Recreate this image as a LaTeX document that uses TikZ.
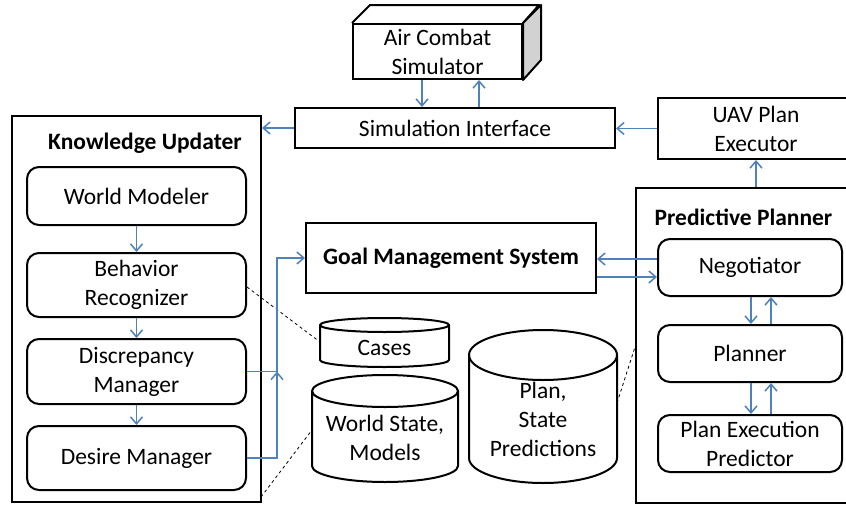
\documentclass[tikz,border=0pt]{standalone}
\usepackage{fontspec}
\setmainfont{Carlito}
\usetikzlibrary{arrows.meta}
\definecolor{flowblue}{RGB}{79,129,189}

\begin{document}
\begin{tikzpicture}[x=1pt,y=-1pt,>={Straight Barb[length=7pt,width=12pt]},
		txt/.style={inner sep=0pt, align=center, font=\fontsize{23.5}{29}\selectfont},
		box/.style={txt, draw, line width=2pt},
		module/.style={box, rounded corners=12pt},
		title/.style={txt, font=\fontsize{23.5}{29}\selectfont\bfseries},
		flow/.style={->, draw=flowblue, line width=1.5pt},
		link/.style={dash pattern=on 3pt off 3pt, line width=0.8pt},
		store/.style={draw, fill=white, line width=2pt}]
		\clip (0,0) rectangle (846,506);
		
		% simulator and interface
		\node[box, minimum width=169pt, minimum height=55pt] (sim) at (437.5,51.5) {Air Combat\\Simulator};
		\draw[line width=2pt, line join=round] (sim.north west) -- ++(18,-18) -- ++(169,0) -- (sim.north east);
		\filldraw[fill=gray!35, line width=2pt, line join=round] (sim.north east) -- ++(18,-18) -- ++(0,55) -- (sim.south east) -- cycle;
		\node[box, minimum width=320pt, minimum height=40pt] (simif) at (455,128) {Simulation Interface};
		\node[box, minimum width=196pt, minimum height=61pt] (uav) at (756,128.5) {UAV Plan\\Executor};
		
		% knowledge updater
		\node[box, minimum width=249pt, minimum height=386pt] (ku) at (136.5,309) {};
		\node[title] (kutitle) at (145,143) {Knowledge Updater};
		\node[module, minimum width=219pt, minimum height=58pt] (wm) at (136.5,196) {World Modeler};
		\node[module, minimum width=219pt, minimum height=64pt] (br) at (136.5,285) {Behavior\\Recognizer};
		\node[module, minimum width=219pt, minimum height=65pt] (dm) at (136.5,371.5) {Discrepancy\\Manager};
		\node[module, minimum width=219pt, minimum height=64pt] (desm) at (136.5,458) {Desire Manager};
		
		% goal management
		\node[box, minimum width=290pt, minimum height=70pt] (gms) at (451,258) {\bfseries Goal Management System};
		
		% predictive planner
		\node[box, minimum width=215pt, minimum height=315pt] (pp) at (743.5,345.5) {};
		\node[title] (pptitle) at (743.5,217) {Predictive Planner};
		\node[module, minimum width=184pt, minimum height=57pt] (neg) at (750,267.5) {Negotiator};
		\node[module, minimum width=184pt, minimum height=57pt] (plan) at (750,353.5) {Planner};
		\node[module, minimum width=184pt, minimum height=57pt] (pep) at (750,443.5) {Plan Execution\\Predictor};
		
		% data stores
		\filldraw[store] (320,325) -- (320,360) arc[start angle=180, end angle=360, x radius=64.5pt, y radius=7pt] -- (449,325) arc[start angle=0, end angle=180, x radius=64.5pt, y radius=7pt] -- cycle;
		\draw[line width=2pt] (320,325) arc[start angle=180, end angle=360, x radius=64.5pt, y radius=7pt];
		\node[txt] (cases) at (384.5,348) {Cases};
		\filldraw[store] (312,391) -- (312,466) arc[start angle=180, end angle=360, x radius=73pt, y radius=16pt] -- (458,391) arc[start angle=0, end angle=180, x radius=73pt, y radius=16pt] -- cycle;
		\draw[line width=2pt] (312,391) arc[start angle=180, end angle=360, x radius=73pt, y radius=16pt];
		\node[txt] (ws) at (385,438) {World State,\\Models};
		\filldraw[store] (469,355) -- (469,458) arc[start angle=180, end angle=360, x radius=74pt, y radius=25pt] -- (617,355) arc[start angle=0, end angle=180, x radius=74pt, y radius=25pt] -- cycle;
		\draw[line width=2pt] (469,355) arc[start angle=180, end angle=360, x radius=74pt, y radius=25pt];
		\node[txt] (preds) at (543,419) {Plan,\\State\\Predictions};
		
		% dashed links
		\coordinate (casesW) at (320,342);
		\coordinate (wsW) at (312,430);
		\coordinate (predsE) at (617,403);
		\draw[link] ([yshift=-2pt]br.east) -- (casesW);
		\draw[link] ([xshift=-1pt,yshift=6pt]ku.south east) -- (wsW);
		\draw[link] (predsE) -- (pp.west |- 0,347);
		
		% flows
		\draw[flow] ([xshift=-15.5pt]sim.south) -- ([xshift=-33pt]simif.north);
		\draw[flow] ([xshift=24pt]simif.north) -- ([xshift=41.5pt]sim.south);
		\draw[flow] (simif.west) -- (simif.west -| ku.east);
		\draw[flow] (uav.west) -- (uav.west -| simif.east);
		\draw[flow] (uav.south |- pp.north) -- (uav.south);
		\draw[flow] (wm) -- (br);
		\draw[flow] (br) -- (dm);
		\draw[flow] (dm) -- (desm);
		\coordinate (join) at (277,371.5);
		\draw[flow] (desm.east) -| (join);
		\draw[flow] (dm.east) -- (join) |- (gms.west);
		\coordinate (negUp) at ([yshift=8.5pt]neg.west);
		\coordinate (negLo) at ([yshift=-9.5pt]neg.west);
		\draw[flow] (negUp) -- (negUp -| gms.east);
		\draw[flow] (negLo -| gms.east) -- (negLo);
		\draw[flow] ([xshift=1pt]neg.south) -- ([xshift=1pt]plan.north);
		\draw[flow] ([xshift=21pt]plan.north) -- ([xshift=21pt]neg.south);
		\draw[flow] ([xshift=1pt]plan.south) -- ([xshift=1pt]pep.north);
		\draw[flow] ([xshift=21pt]pep.north) -- ([xshift=21pt]plan.south);
\end{tikzpicture}
\end{document}
